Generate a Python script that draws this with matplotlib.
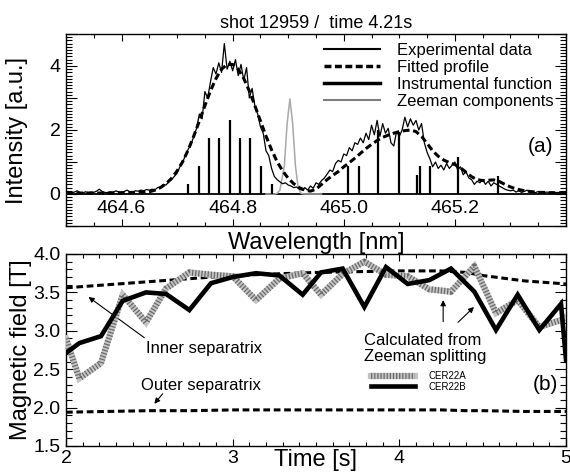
import numpy as np
import matplotlib
matplotlib.use('Agg')
import matplotlib.pyplot as plt
from matplotlib.lines import Line2D
from matplotlib.ticker import MultipleLocator, FixedLocator, FixedFormatter

plt.rcParams['font.family'] = ['Liberation Sans', 'DejaVu Sans']

# ---------------- panel (a): spectrum ----------------
title_text = "shot 12959 /  time 4.21s"

exp_start, exp_step = 464.50, 0.005
exp_int = [
    0.05, 0.08, 0.04, 0.06, 0.10, 0.05, 0.03, 0.07, 0.04, 0.06,
    0.05, 0.09, 0.15, 0.08, 0.05, 0.04, 0.07, 0.05, 0.10, 0.06,
    0.05, 0.08, 0.12, 0.07, 0.06, 0.10, 0.09, 0.12, 0.10, 0.14,
    0.12, 0.15, 0.13, 0.20, 0.22, 0.30, 0.28, 0.38, 0.45, 0.55,
    0.65, 0.85, 1.00, 1.20, 1.40, 1.55, 1.80, 2.05, 2.50, 2.35,
    3.20, 3.00, 3.50, 3.95, 3.75, 4.10, 3.80, 4.70, 3.90, 4.15,
    3.85, 4.20, 3.70, 4.05, 3.55, 3.95, 3.00, 3.30, 2.75, 2.50,
    2.10, 1.90, 1.35, 1.20, 0.80, 0.55, 0.45, 0.38, 0.32, 0.35,
    0.28, 0.25, 0.20, 0.22, 0.15, 0.12, 0.20, 0.12, 0.25, 0.18,
    0.35, 0.30, 0.42, 0.50, 0.62, 0.75, 0.70, 0.95, 1.05, 1.00,
    1.25, 1.20, 1.45, 1.35, 1.60, 1.55, 1.75, 1.60, 1.90, 1.70,
    2.15, 1.85, 2.30, 1.80, 2.20, 1.90, 2.05, 1.60, 1.50, 1.95,
    1.80, 2.00, 2.40, 2.10, 2.35, 2.15, 2.30, 2.00, 2.20, 1.60,
    1.30, 1.10, 0.85, 1.00, 0.80, 0.90, 0.75, 0.95, 0.80, 0.90,
    1.00, 0.75, 0.85, 0.60, 0.70, 0.50, 0.45, 0.30, 0.40, 0.35,
    0.45, 0.30, 0.40, 0.25, 0.35, 0.30, 0.25, 0.20, 0.15, 0.12,
    0.10, 0.12, 0.06, 0.10, 0.05, 0.08, 0.12, 0.05, 0.07, 0.04,
    0.08, 0.05, 0.04, 0.06, 0.05, 0.06, 0.04, 0.05, 0.03, 0.04, 0.05,
]

fit_start, fit_step = 464.50, 0.01
fit_int = [
    0.03, 0.03, 0.03, 0.03, 0.03, 0.03, 0.03, 0.03, 0.03, 0.04,
    0.04, 0.04, 0.05, 0.05, 0.06, 0.07, 0.12, 0.20, 0.32, 0.49,
    0.72, 1.01, 1.38, 1.81, 2.28, 2.76, 3.22, 3.61, 3.90, 4.05,
    4.05, 3.90, 3.61, 3.22, 2.76, 2.28, 1.81, 1.38, 1.01, 0.72,
    0.49, 0.32, 0.20, 0.12, 0.09, 0.15, 0.30, 0.45, 0.58, 0.70,
    0.85, 0.98, 1.12, 1.27, 1.42, 1.55, 1.67, 1.77, 1.84, 1.90,
    1.95, 1.98, 2.00, 1.95, 1.80, 1.58, 1.35, 1.18, 1.06, 0.98,
    0.92, 0.82, 0.68, 0.54, 0.45, 0.42, 0.43, 0.44, 0.39, 0.30,
    0.22, 0.16, 0.12, 0.09, 0.07, 0.05, 0.05, 0.04, 0.04, 0.04, 0.04,
]

instr_wl = [464.860, 464.875, 464.880, 464.885, 464.888, 464.893, 464.898,
            464.903, 464.908, 464.913, 464.918, 464.923, 464.930, 464.960]
instr_int = [0.0, 0.0, 0.02, 0.12, 0.40, 0.88, 2.20,
             2.97, 2.20, 0.88, 0.19, 0.02, 0.0, 0.0]

zee_wl = [464.720, 464.739, 464.758, 464.776, 464.795, 464.814, 464.832,
          464.851, 464.870,
          465.008, 465.027, 465.062, 465.099, 465.132, 465.137, 465.155,
          465.205, 465.278]
zee_int = [0.30, 0.86, 1.74, 1.74, 2.32, 1.74, 1.74, 0.86, 0.30,
           0.86, 0.86, 2.00, 1.95, 0.58, 0.86, 0.86, 1.15, 0.55]

wl_ticks = [464.6, 464.8, 465.0, 465.2]
wl_ticklabels = ['464.6', '464.8', '465.0', '465.2']
int_ticks = [-1, 0, 1, 2, 3, 4, 5]
int_ticklabels = ['', '0', '', '2', '', '4', '']

# ---------------- panel (b): magnetic field ----------------
time_s = [2.00, 2.08, 2.21, 2.34, 2.48, 2.60, 2.74, 2.87, 3.00, 3.14,
          3.28, 3.42, 3.53, 3.66, 3.79, 3.92, 4.05, 4.18, 4.31, 4.45,
          4.58, 4.71, 4.84, 4.97, 5.00]
cer22a = [2.90, 2.38, 2.58, 3.47, 3.11, 3.55, 3.76, 3.73, 3.71, 3.40,
          3.68, 3.75, 3.47, 3.74, 3.90, 3.73, 3.71, 3.54, 3.51, 3.84,
          3.23, 3.40, 3.05, 3.14, 3.18]
cer22b = [2.71, 2.84, 2.93, 3.39, 3.50, 3.48, 3.27, 3.62, 3.70, 3.75,
          3.72, 3.47, 3.76, 3.81, 3.31, 3.83, 3.61, 3.66, 3.81, 3.51,
          3.01, 3.47, 3.01, 3.35, 2.62]

sep_time = [2.0, 2.25, 2.5, 2.75, 3.0, 3.25, 3.5, 3.75, 4.0, 4.25, 4.4,
            4.5, 4.75, 5.0]
inner_sep = [3.56, 3.60, 3.64, 3.68, 3.72, 3.74, 3.76, 3.77, 3.78, 3.78,
             3.76, 3.72, 3.65, 3.61]
outer_sep = [1.94, 1.95, 1.96, 1.96, 1.97, 1.97, 1.97, 1.97, 1.97, 1.97,
             1.96, 1.96, 1.95, 1.95]

time_ticks = [2, 3, 4, 5]
time_ticklabels = ['2', '3', '4', '5']
b_ticks = [1.5, 2.0, 2.5, 3.0, 3.5, 4.0]
b_ticklabels = ['1.5', '2.0', '2.5', '3.0', '3.5', '4.0']

# ---------------- figure ----------------
W, H = 570, 474
fig = plt.figure(figsize=(W / 100, H / 100), dpi=100)
L, R = 66, 566
ax1 = fig.add_axes([L / W, 1 - 226 / H, (R - L) / W, 192 / H])
ax2 = fig.add_axes([L / W, 1 - 446 / H, (R - L) / W, 192 / H])

DASH = (0, (2.2, 1.2))

# panel (a)
exp_wl = exp_start + exp_step * np.arange(len(exp_int))
fit_wl = fit_start + fit_step * np.arange(len(fit_int))

ax1.axhline(0, color='black', lw=1.3, zorder=2)
ax1.plot(instr_wl, instr_int, color='#a8a8a8', lw=1.1, zorder=2)
ax1.vlines(zee_wl, 0, zee_int, color='black', lw=1.6, zorder=3)
ax1.plot(exp_wl, exp_int, color='black', lw=0.9, zorder=4)
ax1.plot(fit_wl, fit_int, color='black', lw=2.2, ls=DASH, zorder=5)

ax1.set_xlim(464.5, 465.4)
ax1.set_ylim(-1, 5)
ax1.xaxis.set_major_locator(FixedLocator(wl_ticks))
ax1.xaxis.set_major_formatter(FixedFormatter(wl_ticklabels))
ax1.xaxis.set_minor_locator(MultipleLocator(0.05))
ax1.yaxis.set_major_locator(FixedLocator(int_ticks))
ax1.yaxis.set_major_formatter(FixedFormatter(int_ticklabels))
ax1.yaxis.set_minor_locator(MultipleLocator(0.1))

leg_handles = [
    Line2D([], [], color='black', lw=1.5),
    Line2D([], [], color='black', lw=2.5, ls=(0, (2.0, 1.0))),
    Line2D([], [], color='black', lw=2.5),
    Line2D([], [], color='#808080', lw=1.5),
]
leg_labels = ['Experimental data', 'Fitted profile', 'Instrumental function',
              'Zeeman components']
ax1.legend(leg_handles, leg_labels, loc='upper right',
           bbox_to_anchor=(0.975, 0.955), frameon=False, fontsize=12,
           handlelength=3.4, handletextpad=1.0, labelspacing=0.12,
           borderpad=0, borderaxespad=0)
ax1.text(0.975, 0.415, '(a)', transform=ax1.transAxes, ha='right',
         va='center', fontsize=15)
ax1.set_title(title_text, fontsize=13, pad=4)
ax1.set_xlabel('Wavelength [nm]', fontsize=17)
ax1.xaxis.set_label_coords(0.5, -0.03)
ax1.set_ylabel('Intensity [a.u.]', fontsize=17)
ax1.yaxis.set_label_coords(-0.075, 0.5)

# panel (b)
ax2.plot(sep_time, inner_sep, color='black', lw=2.2, ls=DASH, zorder=3)
ax2.plot(sep_time, outer_sep, color='black', lw=2.2, ls=DASH, zorder=3)
la_bg, = ax2.plot(time_s, cer22a, color='#c4c4c4', lw=4.5, zorder=4,
                  solid_joinstyle='miter')
la_fg, = ax2.plot(time_s, cer22a, color='#6a6a6a', lw=4.5, zorder=4,
                  ls=(0, (0.2, 0.3)))
lb, = ax2.plot(time_s, cer22b, color='black', lw=3.3, zorder=5,
               solid_joinstyle='miter')

ax2.set_xlim(2, 5)
ax2.set_ylim(1.5, 4.0)
ax2.xaxis.set_major_locator(FixedLocator(time_ticks))
ax2.xaxis.set_major_formatter(FixedFormatter(time_ticklabels))
ax2.xaxis.set_minor_locator(MultipleLocator(0.1))
ax2.yaxis.set_major_locator(FixedLocator(b_ticks))
ax2.yaxis.set_major_formatter(FixedFormatter(b_ticklabels))
ax2.yaxis.set_minor_locator(MultipleLocator(0.1))

arrow_kw = dict(arrowstyle='-|>', color='black', lw=0.8, mutation_scale=8,
                shrinkA=0, shrinkB=0)
ax2.text(2.48, 2.77, 'Inner separatrix', fontsize=12, ha='left', va='center')
ax2.annotate('', xy=(2.135, 3.44), xytext=(2.47, 2.91), arrowprops=arrow_kw)
ax2.text(2.45, 2.29, 'Outer separatrix', fontsize=12, ha='left', va='center')
ax2.annotate('', xy=(2.53, 2.05), xytext=(2.58, 2.18), arrowprops=arrow_kw)
ax2.text(3.79, 2.88, 'Calculated from', fontsize=12, ha='left', va='center')
ax2.text(3.79, 2.66, 'Zeeman splitting', fontsize=12, ha='left', va='center')
ax2.annotate('', xy=(4.263, 3.40), xytext=(4.263, 3.12), arrowprops=arrow_kw)
ax2.annotate('', xy=(4.448, 3.31), xytext=(4.352, 3.11), arrowprops=arrow_kw)
ax2.text(0.985, 0.318, '(b)', transform=ax2.transAxes, ha='right',
         va='center', fontsize=15)
ax2.legend([(la_bg, la_fg), lb], ['CER22A', 'CER22B'], loc='upper left',
           bbox_to_anchor=(0.61, 0.39), frameon=False, fontsize=7,
           handlelength=4.5, handletextpad=1.4, labelspacing=0.05,
           borderpad=0, borderaxespad=0)
ax2.set_xlabel('Time [s]', fontsize=17)
ax2.xaxis.set_label_coords(0.5, -0.018)
ax2.set_ylabel('Magnetic field [T]', fontsize=17)
ax2.yaxis.set_label_coords(-0.068, 0.5)

for ax in (ax1, ax2):
    ax.tick_params(which='both', direction='in', top=True, right=True,
                   labelsize=14, width=0.8, color='black')
    ax.tick_params(axis='y', which='major', length=8, pad=4)
    ax.tick_params(axis='y', which='minor', length=4)
    ax.tick_params(axis='x', which='major', length=5)
    ax.tick_params(axis='x', which='minor', length=3)
    for s in ax.spines.values():
        s.set_linewidth(1.0)

ax1.tick_params(axis='x', which='major', pad=-19)
ax2.tick_params(axis='x', which='major', pad=3)

fig.savefig('out.png', dpi=100)
